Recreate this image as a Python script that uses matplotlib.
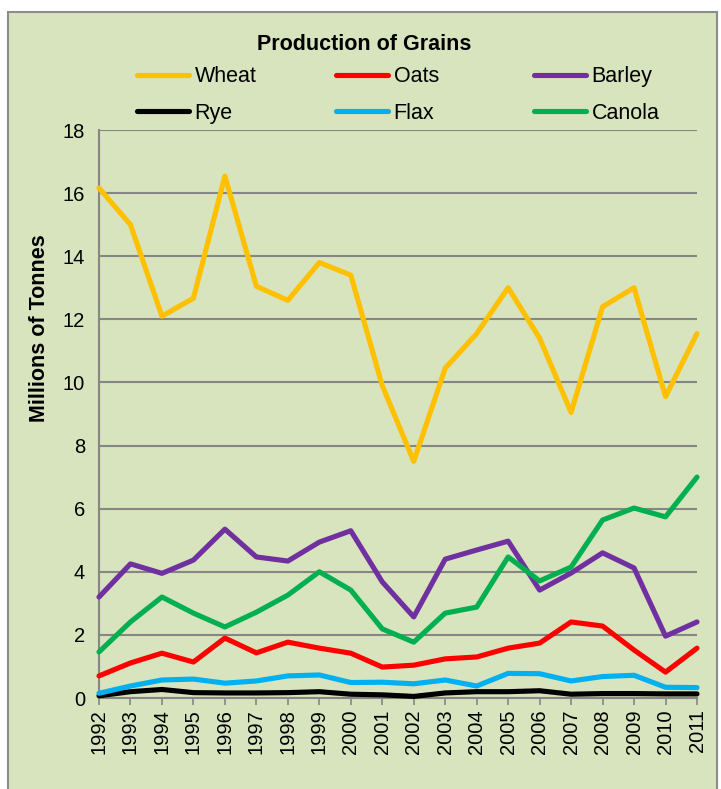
import matplotlib.pyplot as plt
from matplotlib.patches import Rectangle

plt.rcParams['font.family'] = ['Liberation Sans', 'DejaVu Sans']

years = list(range(1992, 2012))

# production, millions of tonnes
wheat = [16.16, 15.0, 12.1, 12.67, 16.54, 13.05, 12.6, 13.8, 13.4, 9.9,
         7.5, 10.45, 11.55, 13.0, 11.4, 9.05, 12.4, 13.0, 9.55, 11.55]
oats = [0.7, 1.11, 1.42, 1.14, 1.9, 1.43, 1.77, 1.58, 1.42, 0.98,
        1.04, 1.24, 1.3, 1.58, 1.74, 2.41, 2.28, 1.52, 0.82, 1.58]
barley = [3.2, 4.25, 3.95, 4.37, 5.35, 4.47, 4.34, 4.94, 5.3, 3.68,
          2.57, 4.4, 4.69, 4.97, 3.42, 3.96, 4.6, 4.12, 1.96, 2.41]
rye = [0.07, 0.2, 0.27, 0.17, 0.16, 0.16, 0.17, 0.2, 0.12, 0.1,
       0.05, 0.16, 0.2, 0.2, 0.23, 0.12, 0.14, 0.14, 0.13, 0.13]
flax = [0.15, 0.38, 0.57, 0.6, 0.47, 0.54, 0.7, 0.73, 0.49, 0.5,
        0.45, 0.57, 0.38, 0.78, 0.77, 0.54, 0.68, 0.72, 0.34, 0.33]
canola = [1.46, 2.41, 3.2, 2.69, 2.25, 2.72, 3.26, 4.0, 3.42, 2.19,
          1.77, 2.69, 2.88, 4.47, 3.71, 4.15, 5.64, 6.02, 5.74, 7.0]

series = [
    ("Wheat", wheat, "#FFC000"),
    ("Oats", oats, "#FF0000"),
    ("Barley", barley, "#7030A0"),
    ("Rye", rye, "#000000"),
    ("Flax", flax, "#00B0F0"),
    ("Canola", canola, "#00B050"),
]

bg = "#D8E4BD"
grid = "#868686"

fig = plt.figure(figsize=(7.21, 7.89), dpi=100)
fig.patch.set_facecolor("white")
# chart area panel with grey border
fig.patches.append(Rectangle((8 / 721, -0.01), 709 / 721, 1 - 12 / 789 + 0.01,
                             transform=fig.transFigure, facecolor=bg,
                             edgecolor="#8C8C8C", linewidth=1.5, zorder=-5))

ax = fig.add_axes([99 / 721, 1 - 698 / 789, 598 / 721, 568 / 789])
ax.set_facecolor(bg)

lines = {}
for name, vals, col in series:
    lines[name], = ax.plot(years, vals, color=col, linewidth=3.7, label=name,
                           solid_joinstyle="round", solid_capstyle="round",
                           zorder=3, clip_on=False)

ax.set_xlim(1992, 2011)
ax.set_ylim(0, 18)
ax.set_yticks(range(0, 19, 2))
ax.set_xticks(years)
ax.set_xticklabels([str(y) for y in years], rotation=90, fontsize=14.5)
ax.tick_params(axis="y", length=0, labelsize=14.5, pad=10)
ax.tick_params(axis="x", length=5, width=1.2, color=grid, direction="out", pad=3)
ax.yaxis.grid(True, color=grid, linewidth=1.5)
ax.set_axisbelow(True)

for side in ("top", "right"):
    ax.spines[side].set_visible(False)
for side in ("left", "bottom"):
    ax.spines[side].set_color(grid)
    ax.spines[side].set_linewidth(1.5)

fig.text(40 / 721, 1 - 328 / 789, "Millions of Tonnes", rotation=90,
         fontsize=15.5, fontweight="bold", ha="center", va="center")
fig.text(364 / 721, 1 - 44 / 789, "Production of Grains", fontsize=15.5,
         fontweight="bold", ha="center", va="center")

# one small legend per column so each column sits where it should
columns = [("Wheat", "Rye"), ("Oats", "Flax"), ("Barley", "Canola")]
col_x = [137, 336, 534]
for names, x in zip(columns, col_x):
    leg = fig.legend([lines[n] for n in names], names, loc="center left",
                     bbox_to_anchor=(x / 721, 1 - 95 / 789), ncol=1,
                     frameon=False, fontsize=15.5, handlelength=2.4,
                     handletextpad=0.28, labelspacing=0.72,
                     borderpad=0, borderaxespad=0)

fig.savefig("out.png", dpi=100, facecolor=fig.get_facecolor())
